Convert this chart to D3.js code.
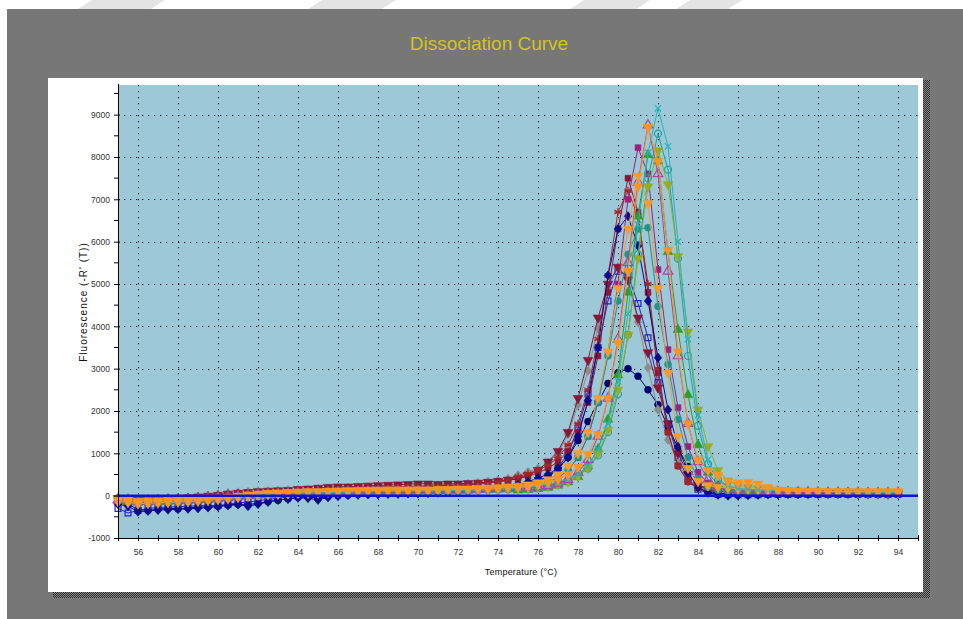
<!DOCTYPE html>
<html>
<head>
<meta charset="utf-8">
<script src="https://cdn.jsdelivr.net/npm/d3@7"></script>
<style>
  body { margin: 0; background: #fff; }
  text { font-family: "Liberation Sans", Arial, sans-serif; }
</style>
</head>
<body>
<svg id="chart" width="963" height="619"></svg>
<script>
// temperature readings (°C)
const temps = [55,55.5,56,56.5,57,57.5,58,58.5,59,59.5,60,60.5,61,61.5,62,62.5,63,63.5,
  64,64.5,65,65.5,66,66.5,67,67.5,68,68.5,69,69.5,70,70.5,71,71.5,72,72.5,73,73.5,74,74.5,
  75,75.5,76,76.5,77,77.5,78,78.5,79,79.5,80,80.5,81,81.5,82,82.5,83,83.5,84,84.5,85,85.5,86,
  86.5,87,87.5,88,88.5,89,89.5,90,90.5,91,91.5,92,92.5,93,93.5,94];

// -R'(T) per well
const cyanX = [-80,-90,-130,-120,-110,-110,-100,-90,-80,-70,-60,-40,-20,0,20,30,40,50,
  60,60,70,70,80,80,90,90,100,100,100,110,110,110,120,120,120,130,130,140,150,160,
  180,200,230,270,320,400,510,700,1100,1700,2700,4300,6400,8100,9150,8250,6000,3700,1900,850,400,230,170,
  150,140,130,120,110,110,100,100,90,90,90,80,80,80,70,70];
const tealOpen = [-110,-130,-170,-160,-150,-140,-130,-120,-100,-90,-70,-50,-30,-10,10,20,30,40,
  50,60,60,70,70,80,80,90,90,90,100,100,100,110,110,110,120,120,130,130,140,150,
  170,190,220,250,300,370,470,640,950,1500,2400,3800,5700,7500,8550,7700,5600,3300,1650,750,360,210,150,
  130,120,110,110,100,100,90,90,90,80,80,80,70,70,70,70];
const oliveTri = [-90,-110,-140,-150,-140,-130,-120,-110,-100,-80,-60,-40,-20,0,20,30,40,50,
  60,60,70,80,80,90,90,100,100,110,110,110,120,120,120,130,130,130,140,140,150,160,
  160,170,190,220,260,330,450,650,1000,1550,2500,3800,5600,7300,8150,7350,5650,3870,2030,1160,600,350,250,
  200,170,150,130,120,110,100,100,90,90,90,80,80,80,80,70];
const greenTri = [-120,-140,-160,-150,-150,-140,-130,-120,-110,-90,-70,-50,-20,10,30,40,50,60,
  70,70,80,80,90,90,100,100,110,110,110,120,120,120,130,130,130,140,140,150,150,160,
  130,140,160,190,240,320,450,700,1100,1800,2850,4800,6600,8050,7900,5760,3920,2380,1200,550,250,160,130,
  110,100,100,90,90,80,80,80,70,70,70,60,60,60,60,60];
const orangeA = [-90,-100,-130,-120,-120,-110,-100,-100,-90,-80,-60,-40,-10,20,40,60,70,80,
  90,100,100,110,110,120,120,130,130,140,140,130,140,130,140,140,150,150,160,170,180,190,
  200,220,260,310,390,500,680,980,1450,2300,3600,5300,7300,8700,7900,5800,3400,1700,850,600,480,340,310,
  320,280,200,140,120,110,110,110,100,100,100,100,100,100,100,100];
const orangeB = [-140,-160,-190,-180,-170,-160,-150,-140,-130,-110,-90,-70,-40,-10,20,40,50,60,
  80,90,90,100,110,110,120,120,130,130,130,140,140,140,150,150,160,160,170,180,190,210,
  230,260,310,380,500,700,1000,1500,2300,3400,4900,6300,7550,6900,4900,2900,1400,650,340,240,200,180,160,
  150,140,130,120,120,110,110,100,100,100,100,90,90,90,90,90];
const purpleTri = [-100,-120,-140,-130,-130,-120,-110,-100,-90,-80,-60,-40,-20,0,20,30,40,50,
  60,70,70,80,80,90,90,100,100,100,110,110,110,120,120,120,130,130,140,150,160,170,
  170,180,200,230,290,380,550,850,1400,2300,3700,5500,7400,8750,7600,5300,3300,1700,800,380,220,160,130,
  110,100,90,90,80,80,80,70,70,70,60,60,60,60,60,60];
const magentaSq = [-130,-150,-180,-170,-160,-150,-140,-130,-120,-100,-80,-60,-40,-10,10,30,40,50,
  60,70,70,80,90,90,100,100,110,110,120,120,120,130,130,130,140,150,160,170,180,190,
  190,220,260,320,420,600,900,1400,2200,3380,5000,7000,8220,7600,5340,3450,2080,1160,550,300,200,160,140,
  130,120,110,110,100,100,100,90,90,90,80,80,80,80,80,80];
const crimsonSq = [-70,-90,-100,-90,-80,-70,-60,-50,-40,-20,0,20,50,70,80,90,100,110,
  120,130,140,150,170,180,190,200,200,210,210,220,220,230,230,240,250,260,280,300,330,360,
  400,460,540,650,800,1050,1500,2200,3300,4800,6300,7500,6700,4800,2900,1500,700,330,180,120,100,90,80,
  70,70,60,60,60,60,50,50,50,50,50,50,50,40,40,40];
const brownStar = [-60,-70,-80,-70,-60,-50,-40,-30,-10,10,30,50,60,70,80,90,100,110,
  110,120,130,140,150,160,170,180,180,190,190,200,200,210,220,230,240,250,270,300,330,370,
  450,520,600,720,900,1200,1700,2500,3700,5200,6700,7200,6600,5000,3000,1500,700,320,170,120,100,90,80,
  80,70,70,70,60,60,60,60,60,50,50,50,50,50,50,50];
const navyDia = [-200,-250,-380,-360,-340,-330,-320,-310,-300,-280,-260,-230,-210,-250,-200,-150,-100,-80,
  -50,-60,-100,-40,-10,10,20,30,30,40,40,50,50,60,70,80,90,100,120,150,180,210,
  250,330,420,500,650,900,1400,2250,3500,5200,6300,6600,5900,4600,3260,2030,1160,540,190,70,20,0,0,
  10,20,30,30,40,40,40,50,50,50,50,50,50,50,50,50];
const navyCirc = [-180,-200,-330,-350,-320,-300,-310,-290,-270,-260,-240,-220,-200,-210,-180,-140,-110,-70,
  -40,-30,-60,-20,0,20,30,40,50,50,60,60,70,70,80,90,100,110,130,160,190,220,
  250,290,350,450,620,900,1300,1750,2200,2650,2900,3000,2820,2500,2150,1630,1130,690,300,100,60,40,30,
  30,30,40,40,40,40,40,40,40,40,40,40,40,40,40,40];
const blueSq = [-300,-410,-350,-300,-280,-270,-260,-250,-240,-230,-240,-200,-170,-150,-120,-90,-60,-30,
  -10,10,20,40,50,60,70,80,80,90,90,100,100,110,110,120,130,140,150,170,190,210,
  220,260,330,450,650,1000,1600,2400,3500,4600,5300,5200,4540,3730,2670,1700,900,400,150,60,30,20,20,
  20,20,30,30,30,30,30,30,30,30,30,30,30,30,30,30];
const grayDia = [-40,-60,-90,-80,-70,-60,-50,-40,-20,0,30,60,80,90,100,110,120,130,
  140,150,160,170,180,190,200,200,210,210,220,220,230,230,240,250,260,280,300,330,360,400,
  480,560,640,780,1000,1450,2150,2950,3950,4900,5400,5100,4100,3020,2030,1320,780,380,210,150,120,110,100,
  100,90,90,80,80,80,70,70,70,70,60,60,60,60,60,60];
const maroonTri = [-60,-80,-110,-100,-90,-80,-70,-50,-30,-10,10,40,60,80,100,110,120,130,
  150,160,180,200,210,210,220,230,240,250,260,270,280,280,270,280,280,290,300,320,340,370,
  400,480,600,800,1050,1500,2300,3200,4200,5000,5400,5100,4200,3380,2550,1700,1000,500,250,150,120,100,90,
  80,80,70,70,70,60,60,60,60,60,60,50,50,50,50,50];
const tealCirc = [-100,-120,-160,-150,-140,-130,-120,-110,-100,-80,-60,-40,-20,0,20,30,40,50,
  60,60,70,70,80,80,90,90,100,100,100,110,110,110,120,120,120,130,130,140,150,160,
  180,210,250,310,420,600,900,1400,2200,3300,4600,5700,6300,6330,4470,3100,1800,900,400,200,130,110,100,
  90,90,80,80,80,70,70,70,70,60,60,60,60,60,60,60];

const yTicks = [-1000,0,1000,2000,3000,4000,5000,6000,7000,8000,9000];
const yMinor = [-500,500,1500,2500,3500,4500,5500,6500,7500,8500,9500];
const xTicks = [56,58,60,62,64,66,68,70,72,74,76,78,80,82,84,86,88,90,92,94];
const xMinor = [55,57,59,61,63,65,67,69,71,73,75,77,79,81,83,85,87,89,91,93,95];

// drawing order: first ones end up underneath
const series = [
  { values: navyCirc,  color: '#00006e', marker: 'circle' },
  { values: blueSq,    color: '#2424c4', marker: 'square', open: true },
  { values: grayDia,   color: '#8c8c8c', marker: 'diamond' },
  { values: maroonTri, color: '#861739', marker: 'triDown' },
  { values: crimsonSq, color: '#8e1436', marker: 'square' },
  { values: brownStar, color: '#a3262a', marker: 'star' },
  { values: navyDia,   color: '#0b0b8c', marker: 'diamond' },
  { values: magentaSq, color: '#a01f7c', marker: 'square' },
  { values: tealCirc,  color: '#1c9494', marker: 'circle' },
  { values: tealOpen,  color: '#21a0a4', marker: 'circle', open: true },
  { values: greenTri,  color: '#2c9e2c', marker: 'triUp' },
  { values: oliveTri,  color: '#9aac1e', marker: 'triDown' },
  { values: purpleTri, color: '#a246a6', marker: 'triUp', open: true },
  { values: orangeB,   color: '#f99b2a', marker: 'triDown' },
  { values: cyanX,     color: '#24b4bc', marker: 'x' },
  { values: orangeA,   color: '#ff9320', marker: 'triDown' }
];

const svg = d3.select('#chart');
const plot = { left: 118, right: 918, top: 85, bottom: 538 };

const x = d3.scaleLinear().domain([55, 95]).range([plot.left, plot.right]);
const y = d3.scaleLinear().domain([-1000, 9700]).range([plot.bottom, plot.top]);
const fmt = d => String(d);   // plain hyphen for negatives, like the original

// background, watermark strip, grey frame
svg.append('rect').attr('width', 963).attr('height', 619).attr('fill', '#fff');
[[92, 165], [322, 396], [584, 650], [690, 742]].forEach(([a, b]) => {
  svg.append('path')
    .attr('d', `M${a},0L${b},0L${b - 14},9L${a - 14},9Z`)
    .attr('fill', '#e4e4e4');
});
svg.append('rect').attr('x', 7).attr('y', 9).attr('width', 956).attr('height', 610).attr('fill', '#777777');

const defs = svg.append('defs');
const pat = defs.append('pattern').attr('id', 'hatch')
  .attr('width', 2).attr('height', 2).attr('patternUnits', 'userSpaceOnUse');
pat.append('rect').attr('width', 2).attr('height', 2).attr('fill', '#2c2c2c');
pat.append('rect').attr('width', 1).attr('height', 1).attr('fill', '#8a8a8a');
pat.append('rect').attr('x', 1).attr('y', 1).attr('width', 1).attr('height', 1).attr('fill', '#8a8a8a');

// shadow + white chart panel
svg.append('rect').attr('x', 923).attr('y', 80).attr('width', 7).attr('height', 518).attr('fill', 'url(#hatch)');
svg.append('rect').attr('x', 53).attr('y', 592).attr('width', 877).attr('height', 6).attr('fill', 'url(#hatch)');
svg.append('rect').attr('x', 48).attr('y', 78).attr('width', 875).attr('height', 514).attr('fill', '#fff');

svg.append('text')
  .attr('x', 489).attr('y', 50)
  .attr('text-anchor', 'middle')
  .attr('font-size', 19)
  .attr('fill', '#d3c31f')
  .text('Dissociation Curve');

// plot area
svg.append('rect')
  .attr('x', plot.left).attr('y', plot.top)
  .attr('width', plot.right - plot.left).attr('height', plot.bottom - plot.top)
  .attr('fill', '#9dc8d8');

// dotted grid
const grid = svg.append('g').attr('stroke', '#1a1a1a').attr('stroke-width', 1)
  .attr('stroke-dasharray', '1.3,4.7');
grid.selectAll('.gy').data(yTicks.filter(d => d > 0)).enter().append('line')
  .attr('x1', plot.left).attr('x2', plot.right)
  .attr('y1', d => Math.round(y(d)) + 0.5).attr('y2', d => Math.round(y(d)) + 0.5);
grid.selectAll('.gx').data(xTicks).enter().append('line')
  .attr('y1', plot.top).attr('y2', plot.bottom)
  .attr('x1', d => Math.round(x(d)) + 0.5).attr('x2', d => Math.round(x(d)) + 0.5);

// curves
const line = d3.line().x((d, i) => x(temps[i])).y(d => y(d));
const symbols = {
  diamond: 'M0,-4.6L3.8,0L0,4.6L-3.8,0Z',
  square: d3.symbol(d3.symbolSquare, 34)(),
  triUp: d3.symbol(d3.symbolTriangle, 40)(),
  triDown: d3.symbol(d3.symbolTriangle, 40)(),
  circle: d3.symbol(d3.symbolCircle, 38)(),
  x: 'M-3.2,-3.2L3.2,3.2M-3.2,3.2L3.2,-3.2',
  star: 'M0,-4V4M-3.5,-2L3.5,2M-3.5,2L3.5,-2M-3.8,0H3.8'
};

const curves = svg.append('g').attr('class', 'curves');
series.forEach(s => {
  if (s.values.length !== temps.length) console.warn('length mismatch', s.color, s.values.length);
  const g = curves.append('g');
  g.append('path')
    .attr('d', line(s.values))
    .attr('fill', 'none')
    .attr('stroke', s.color)
    .attr('stroke-width', 1);
  const strokeOnly = s.open || s.marker === 'x' || s.marker === 'star';
  g.selectAll('path.m').data(s.values).enter().append('path')
    .attr('class', 'm')
    .attr('d', symbols[s.marker])
    .attr('transform', (d, i) => `translate(${x(temps[i])},${y(d)})` + (s.marker === 'triDown' ? ' rotate(180)' : ''))
    .attr('fill', strokeOnly ? 'none' : s.color)
    .attr('stroke', s.color)
    .attr('stroke-width', strokeOnly ? 1.2 : 0.6);
});

// zero line
svg.append('line')
  .attr('x1', plot.left).attr('x2', plot.right)
  .attr('y1', y(0)).attr('y2', y(0))
  .attr('stroke', '#1212d2').attr('stroke-width', 2.5);

// axes
const yAxis = svg.append('g')
  .attr('transform', `translate(${plot.left},0)`)
  .call(d3.axisLeft(y).tickValues(yTicks).tickSize(4).tickPadding(4).tickFormat(fmt));
yAxis.select('.domain').attr('stroke', '#000').attr('d', `M0.5,${plot.top - 1}V${plot.bottom}`);
yAxis.selectAll('.tick line').attr('x1', 2);
yAxis.selectAll('.tick text').attr('font-size', 8.5).attr('fill', '#333')
  .attr('font-family', '"Liberation Sans", Arial, sans-serif');
yAxis.selectAll('.minor').data(yMinor).enter().append('line')
  .attr('class', 'minor').attr('stroke', '#000')
  .attr('x1', -4).attr('x2', 0)
  .attr('y1', d => y(d)).attr('y2', d => y(d));

const xAxis = svg.append('g')
  .attr('transform', `translate(0,${plot.bottom})`)
  .call(d3.axisBottom(x).tickValues(xTicks).tickSize(3).tickPadding(8).tickFormat(fmt));
xAxis.select('.domain').attr('stroke', '#000').attr('d', `M${plot.left},0.5H${plot.right}`);
xAxis.selectAll('.tick line').attr('y1', -3);
xAxis.selectAll('.tick text').attr('font-size', 8.5).attr('fill', '#333')
  .attr('font-family', '"Liberation Sans", Arial, sans-serif');
xAxis.selectAll('.minor').data(xMinor).enter().append('line')
  .attr('class', 'minor').attr('stroke', '#000')
  .attr('y1', -3).attr('y2', 3)
  .attr('x1', d => x(d) + 0.5).attr('x2', d => x(d) + 0.5);

svg.append('text')
  .attr('transform', 'translate(87,302) rotate(-90)')
  .attr('text-anchor', 'middle')
  .attr('font-size', 10)
  .attr('letter-spacing', 1)
  .attr('fill', '#111')
  .text("Fluorescence (-R' (T))");

svg.append('text')
  .attr('x', 521).attr('y', 575)
  .attr('text-anchor', 'middle')
  .attr('font-size', 9)
  .attr('letter-spacing', 0.2)
  .attr('fill', '#111')
  .text('Temperature (°C)');
</script>
</body>
</html>
